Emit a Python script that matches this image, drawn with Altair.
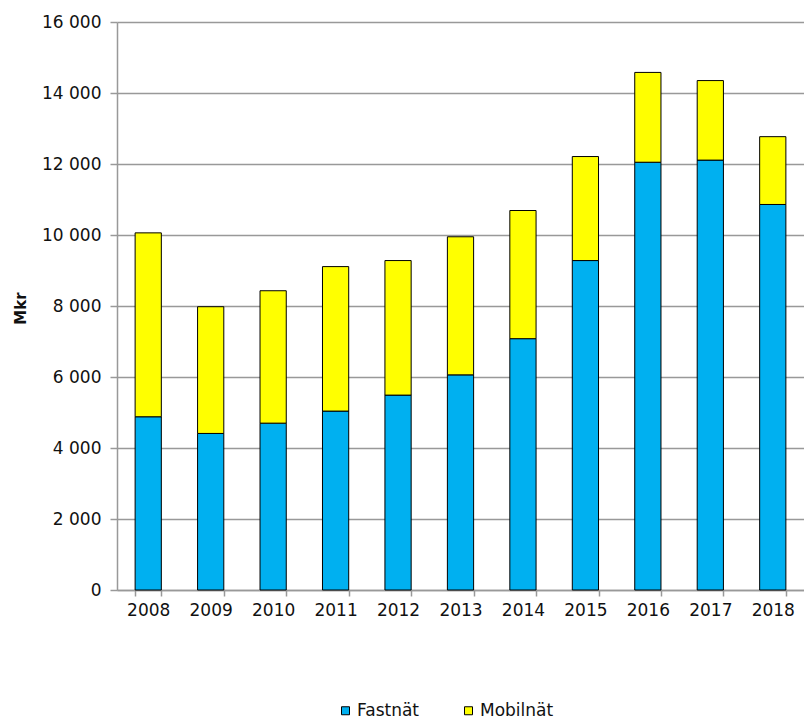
import altair as alt
import pandas as pd

years = ["2008", "2009", "2010", "2011", "2012", "2013", "2014", "2015", "2016", "2017", "2018"]
fastnat = [4880, 4410, 4700, 5040, 5490, 6060, 7080, 9280, 12050, 12110, 10860]
mobilnat = [5180, 3570, 3730, 4070, 3790, 3890, 3610, 2930, 2530, 2240, 1910]
series = ["Fastnät", "Mobilnät"]
colors = ["#00B0F0", "#FFFF00"]
y_ticks = [0, 2000, 4000, 6000, 8000, 10000, 12000, 14000, 16000]

rows = []
for i, y in enumerate(years):
    rows.append({"År": y, "Serie": series[0], "Värde": fastnat[i], "ord": 0})
    rows.append({"År": y, "Serie": series[1], "Värde": mobilnat[i], "ord": 1})
df = pd.DataFrame(rows)

FONT = "DejaVu Sans"

chart = (
    alt.Chart(df)
    .mark_bar(stroke="black", strokeWidth=1)
    .encode(
        x=alt.X(
            "År:N",
            sort=years,
            title=None,
            scale=alt.Scale(paddingInner=0.58, paddingOuter=0.29),
            axis=alt.Axis(
                labelAngle=0,
                tickBand="extent",
                tickSize=6,
                tickColor="#999999",
                tickWidth=1.5,
                domainColor="#999999",
                domainWidth=1.5,
                labelFont=FONT,
                labelFontSize=17,
                labelColor="#111111",
                labelPadding=6,
                grid=False,
            ),
        ),
        y=alt.Y(
            "Värde:Q",
            stack="zero",
            scale=alt.Scale(domain=[0, 16000], nice=False),
            title="Mkr",
            axis=alt.Axis(
                values=y_ticks,
                labelExpr="replace(format(datum.value, ','), ',', ' ')",
                labelFont=FONT,
                labelFontSize=17,
                labelColor="#111111",
                labelPadding=9,
                tickSize=7,
                tickColor="#999999",
                tickWidth=1.5,
                domainColor="#999999",
                domainWidth=1.5,
                gridColor="#999999",
                gridWidth=1.5,
                titleFont=FONT,
                titleFontSize=15,
                titleFontWeight="bold",
                titleColor="#111111",
                titleAngle=-90,
                titleX=-97,
                titleY=286,
                titleAlign="center",
                titleBaseline="middle",
            ),
        ),
        color=alt.Color(
            "Serie:N",
            scale=alt.Scale(domain=series, range=colors),
            legend=alt.Legend(
                title=None,
                orient="none",
                legendX=220,
                legendY=680,
                direction="horizontal",
                symbolType="square",
                symbolSize=64,
                symbolStrokeColor="black",
                symbolStrokeWidth=1,
                labelFont=FONT,
                labelFontSize=17,
                labelColor="#111111",
                labelOffset=3,
                columnPadding=40,
            ),
        ),
        order=alt.Order("ord:Q", sort="ascending"),
    )
    .properties(
        width=687,
        height=568,
        autosize=alt.AutoSizeParams(type="none"),
        padding={"left": 117, "top": 22, "right": 0, "bottom": 130},
    )
    .configure_view(stroke=None)
)

chart.save("out.html", embed_options={"renderer": "svg", "actions": False})
